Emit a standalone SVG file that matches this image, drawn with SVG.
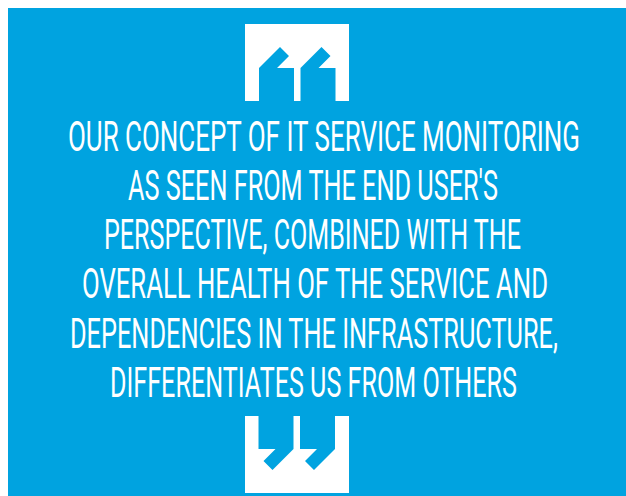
<svg xmlns="http://www.w3.org/2000/svg" width="626" height="496" viewBox="0 0 626 496">
  <style>
    .bg { fill: #00A3E0; }
    .qw { fill: #FFFFFF; }
    .qc { fill: #00A3E0; }
    .t { fill: #FFFFFF; font-family: Roboto, "DejaVu Sans Condensed", "Liberation Sans", sans-serif; font-size: 24.7px; font-weight: 400; }
  </style>
  <defs>
    <g id="quoteMark">
      <rect class="qw" x="245" y="24" width="104" height="77"/>
      <polygon class="qc" points="259,101 259,68 280,47 289,56 277,68 294,68 294,101"/>
      <polygon class="qc" points="300.5,101 300.5,68 321.5,47 330.5,56 318.5,68 335.5,68 335.5,101"/>
    </g>
  </defs>
  <rect id="background" class="bg" x="8" y="8" width="618" height="488"/>
  <g id="quote-top">
    <use href="#quoteMark"/>
  </g>
  <g id="quote-bottom" transform="rotate(180 297 258.5)">
    <use href="#quoteMark"/>
  </g>
  <g id="quote-text" transform="matrix(1 0 0 1.7 0 0)">
    <text class="t" x="68" y="88.82" textLength="512" lengthAdjust="spacingAndGlyphs">OUR CONCEPT OF IT SERVICE MONITORING</text>
    <text class="t" x="128" y="117.65" textLength="370" lengthAdjust="spacingAndGlyphs">AS SEEN FROM THE END USER'S</text>
    <text class="t" x="104" y="146.47" textLength="417" lengthAdjust="spacingAndGlyphs">PERSPECTIVE, COMBINED WITH THE</text>
    <text class="t" x="82" y="175.29" textLength="466" lengthAdjust="spacingAndGlyphs">OVERALL HEALTH OF THE SERVICE AND</text>
    <text class="t" x="70" y="204.71" textLength="488" lengthAdjust="spacingAndGlyphs">DEPENDENCIES IN THE INFRASTRUCTURE,</text>
    <text class="t" x="110" y="233.53" textLength="407" lengthAdjust="spacingAndGlyphs">DIFFERENTIATES US FROM OTHERS</text>
  </g>
</svg>
